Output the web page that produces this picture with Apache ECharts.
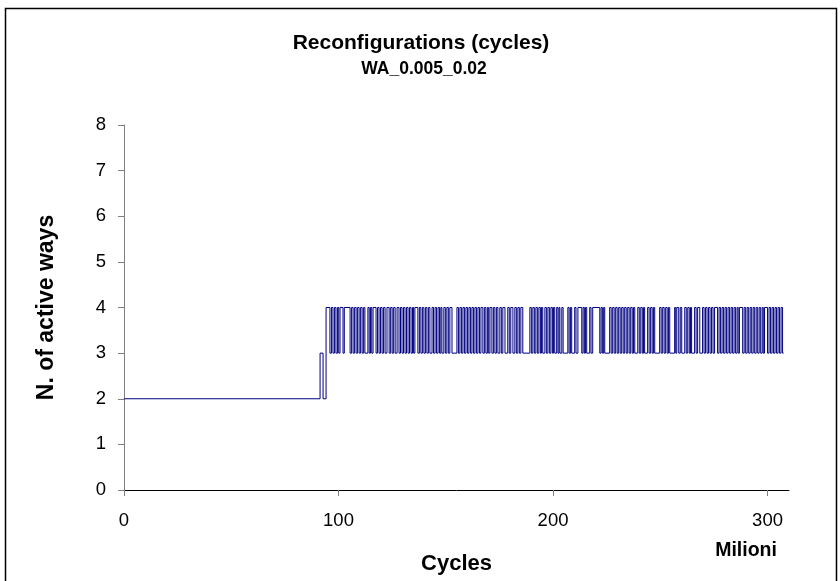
<!DOCTYPE html>
<html>
<head>
<meta charset="utf-8">
<script src="https://cdn.jsdelivr.net/npm/echarts@6/dist/echarts.min.js"></script>
<style>
html,body{margin:0;padding:0;background:#fff;}
#chart{width:840px;height:581px;}
</style>
</head>
<body>
<div id="chart"></div>
<script>
// [time (millions of cycles), number of active ways held from that time]
const activeWaySteps = [
  [0,2],[91.4,3],[92.8,2],[94.2,4],
  [96.0,3],[96.7,4],[97.4,3],[98.1,4],[98.8,3],[99.5,4],[100.1,3],[100.7,4],
  [102.1,3],[102.7,4],
  [105.4,3],[106.1,4],[106.8,3],[107.5,4],[108.2,3],[108.9,4],[109.6,3],[110.3,4],[111.0,3],[111.7,4],[112.3,3],
  [113.7,4],[114.3,3],[114.9,4],[115.5,3],[116.1,4],
  [117.5,3],[118.2,4],[118.9,3],[119.6,4],[120.3,3],[121.0,4],[121.7,3],[122.6,4],
  [123.6,3],[124.3,4],[125.0,3],[125.7,4],[126.4,3],[127.3,4],
  [128.2,3],[128.9,4],[129.6,3],[130.3,4],[131.0,3],[131.7,4],[132.4,3],[133.1,4],[133.8,3],[134.5,4],[135.0,3],[135.6,4],
  [137.0,3],[137.7,4],[138.4,3],[139.1,4],[139.8,3],[140.5,4],[141.2,3],[141.9,4],[142.6,3],
  [143.6,4],[144.3,3],[145.0,4],[145.7,3],[146.4,4],[147.1,3],[147.7,4],[148.2,3],
  [149.1,4],[149.8,3],[150.5,4],[151.2,3],[151.9,4],[152.9,3],
  [155.2,4],[155.9,3],[156.6,4],[157.3,3],[158.0,4],[158.7,3],[159.4,4],[160.1,3],[160.8,4],[161.5,3],[162.2,4],[162.9,3],
  [163.6,4],[164.3,3],[165.0,4],[165.7,3],[166.4,4],[167.3,3],[168.0,4],[168.7,3],[169.4,4],[170.0,3],[170.6,4],
  [171.5,3],[172.2,4],[172.9,3],[173.6,4],[174.3,3],
  [175.2,4],[175.9,3],[176.6,4],[177.6,3],
  [178.9,4],[179.6,3],[180.3,4],[181.3,3],
  [182.2,4],[182.9,3],[183.6,4],[184.3,3],[185.0,4],[185.9,3],
  [189.2,4],[189.9,3],[190.6,4],[191.3,3],[192.0,4],[192.7,3],[193.4,4],[194.1,3],[194.6,4],[195.2,3],
  [196.2,4],[196.9,3],[197.6,4],[198.3,3],[199.0,4],[199.7,3],[200.2,4],[200.8,3],
  [201.7,4],[202.3,3],[202.8,4],[203.2,3],
  [204.1,4],[204.7,3],
  [206.9,4],[207.5,3],[208.1,4],[208.7,3],
  [210.1,4],[210.7,3],[211.6,4],
  [213.4,3],[214.0,4],[214.6,3],[215.1,4],[215.7,3],
  [217.1,4],[217.7,3],[218.5,4],
  [221.8,3],[222.4,4],[223.0,3],[223.6,4],[224.1,3],
  [226.4,4],[227.1,3],[227.8,4],[228.5,3],[229.2,4],[229.9,3],[230.6,4],[231.3,3],[232.0,4],
  [232.7,3],[233.4,4],[234.1,3],[234.8,4],[235.5,3],[236.2,4],[236.9,3],[237.5,4],[238.1,3],
  [239.5,4],[240.2,3],[240.9,4],[241.6,3],[242.2,4],[242.7,3],
  [244.1,4],[244.8,3],[245.5,4],[246.2,3],[246.8,4],[247.4,3],
  [249.7,4],[250.4,3],[251.1,4],[251.8,3],[252.5,4],[253.2,3],[253.8,4],[254.4,3],
  [256.7,4],[257.2,3],[257.7,4],
  [258.6,3],[259.3,4],[260.0,3],
  [261.4,4],[262.1,3],[262.8,4],[263.5,3],[264.1,4],[264.6,3],
  [266.0,4],[266.7,3],[267.4,4],[268.4,3],
  [269.7,4],[270.4,3],[271.1,4],[271.8,3],[272.5,4],[273.2,3],[273.9,4],[274.6,3],[275.3,4],
  [276.7,3],[277.4,4],[278.1,3],[278.8,4],[279.5,3],[280.2,4],[280.9,3],[281.6,4],
  [282.3,3],[283.0,4],[283.7,3],[284.4,4],[285.1,3],[285.8,4],[286.3,3],[286.9,4],
  [288.4,3],[289.1,4],[289.8,3],[290.5,4],[291.2,3],[291.9,4],[292.6,3],[293.3,4],
  [294.0,3],[294.7,4],[295.4,3],[296.1,4],[296.8,3],[297.5,4],[298.0,3],[298.6,4],
  [300.0,3],[300.7,4],[301.4,3],[302.1,4],[302.8,3],[303.5,4],[304.2,3],[304.9,4],
  [305.6,3],[306.3,4],[307.0,3],[307.5,3]
];
const xTicks = [0, 100, 200, 300];
const yTicks = [0, 1, 2, 3, 4, 5, 6, 7, 8];

const titleLine1 = 'Reconfigurations (cycles)';
const titleLine2 = 'WA_0.005_0.02';
const xName = 'Cycles';
const yName = 'N. of active ways';
const unitLabel = 'Milioni';

// Each step segment: [start time, end time, level held, next level]
const stepSegments = activeWaySteps.slice(0, -1).map((p, i) =>
  [p[0], activeWaySteps[i + 1][0], p[1], activeWaySteps[i + 1][1]]);

const FONT = '"Liberation Sans", Arial, sans-serif';
const chart = echarts.init(document.getElementById('chart'), null, {renderer: 'canvas'});
chart.setOption({
  animation: false,
  backgroundColor: '#ffffff',
  grid: {left: 124, right: 51, top: 125, bottom: 91, containLabel: false},
  xAxis: {
    type: 'value',
    min: 0,
    max: 310,
    interval: 100,
    name: xName,
    nameLocation: 'middle',
    nameGap: 63,
    nameTextStyle: {fontFamily: FONT, fontWeight: 'bold', fontSize: 22, color: '#000'},
    axisLine: {show: true, lineStyle: {color: '#000', width: 1}},
    axisTick: {show: true, length: 6, lineStyle: {color: '#808080'}, customValues: xTicks},
    axisLabel: {fontFamily: FONT, fontSize: 18.5, color: '#000', margin: 21, customValues: xTicks},
    splitLine: {show: false}
  },
  yAxis: {
    type: 'value',
    min: 0,
    max: 8,
    interval: 1,
    name: yName,
    nameLocation: 'middle',
    nameGap: 66,
    nameTextStyle: {fontFamily: FONT, fontWeight: 'bold', fontSize: 23, color: '#000'},
    axisLine: {show: true, lineStyle: {color: '#808080', width: 1}},
    axisTick: {show: true, length: 6, lineStyle: {color: '#808080'}, customValues: yTicks},
    axisLabel: {fontFamily: FONT, fontSize: 18.5, color: '#000', margin: 18, customValues: yTicks},
    splitLine: {show: false}
  },
  graphic: [
    {
      type: 'rect',
      shape: {x: 5.5, y: 8.5, width: 831, height: 600},
      style: {fill: null, stroke: '#000', lineWidth: 1.5},
      silent: true
    },
    {
      type: 'text', x: 421, y: 43,
      style: {text: titleLine1, fontFamily: FONT, fontWeight: 'bold', fontSize: 21, fill: '#000', align: 'center', verticalAlign: 'middle'}
    },
    {
      type: 'text', x: 424, y: 69,
      style: {text: titleLine2, fontFamily: FONT, fontWeight: 'bold', fontSize: 17.5, fill: '#000', align: 'center', verticalAlign: 'middle'}
    },
    {
      type: 'text', x: 746, y: 551,
      style: {text: unitLabel, fontFamily: FONT, fontWeight: 'bold', fontSize: 19.5, fill: '#000', align: 'center', verticalAlign: 'middle'}
    }
  ],
  series: [{
    type: 'custom',
    data: stepSegments,
    encode: {x: [0, 1], y: [2, 3]},
    clip: false,
    silent: true,
    renderItem: function (params, api) {
      const a = api.coord([api.value(0), api.value(2)]);
      const b = api.coord([api.value(1), api.value(2)]);
      const c = api.coord([api.value(1), api.value(3)]);
      return {
        type: 'polyline',
        shape: {points: [a, b, c]},
        style: {stroke: '#000080', lineWidth: 1, fill: null}
      };
    }
  }]
});
</script>
</body>
</html>
